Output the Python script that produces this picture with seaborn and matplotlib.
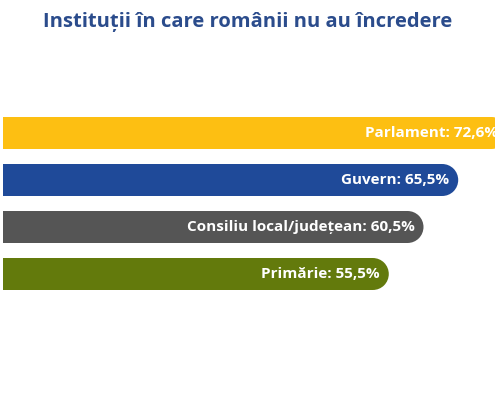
import matplotlib
matplotlib.use("Agg")
import matplotlib.pyplot as plt
import seaborn as sns
import pandas as pd
from matplotlib.patches import Ellipse

categorii = ["Parlament", "Guvern", "Consiliu local/județean", "Primărie"]
valori = [72.6, 65.5, 60.5, 55.5]
culori = ["#FDBF12", "#1F4A99", "#555555", "#637A0C"]

df = pd.DataFrame({"cat": categorii, "val": valori})

sns.set_style("white")
plt.rcParams["font.family"] = ["Open Sans", "DejaVu Sans"]

fig = plt.figure(figsize=(4.95, 4.0), dpi=100)
ax = fig.add_axes([0, 0, 1, 1])

xmax = 70.8
px_per_unit = 495 / xmax
h = 0.68
r = 16 / px_per_unit  # raza capului rotunjit in unitati de date

df["corp"] = df["val"] - r
sns.barplot(data=df, y="cat", x="corp", hue="cat", palette=culori,
            orient="h", width=h, legend=False, ax=ax, saturation=1,
            linewidth=0)

for i, (v, c) in enumerate(zip(valori, culori)):
    ax.add_patch(Ellipse((v - r, i), 2 * r, h, color=c, lw=0))
    eticheta = f"{categorii[i]}: {v:.1f}%".replace(".", ",")
    ax.text(v - 1.3, i, eticheta, ha="right", va="center",
            color="white", fontsize=11, fontweight="bold")

ax.set_xlim(-0.5, xmax)
ax.set_ylim((400 - 133) / 47, -133 / 47)
ax.axis("off")

fig.text(0.5, 1 - 22 / 400, "Instituții în care românii nu au încredere",
         ha="center", va="center", fontsize=14.5, fontweight="bold",
         color="#2B4C8C")

fig.savefig("out.png", dpi=100)
